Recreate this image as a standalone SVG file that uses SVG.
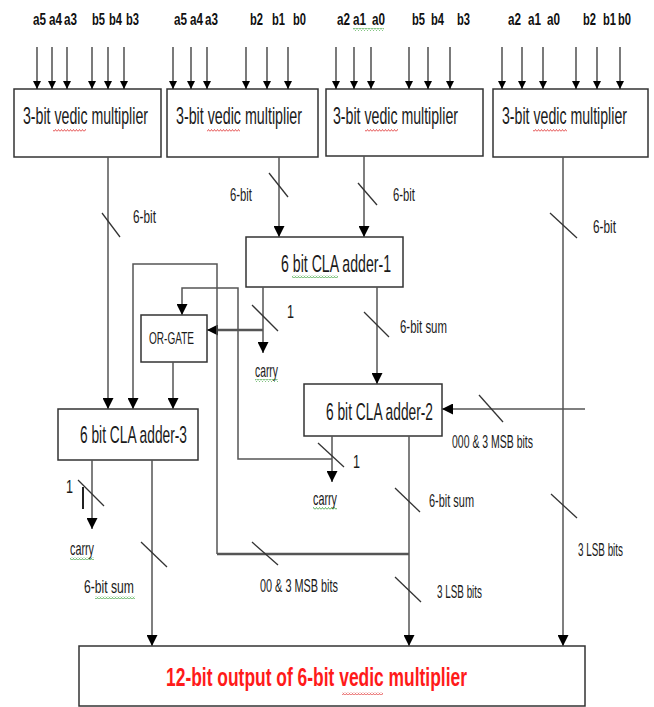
<svg xmlns="http://www.w3.org/2000/svg" width="654" height="707" viewBox="0 0 654 707">
<defs>
<marker id="arr" viewBox="0 0 10 10" refX="10" refY="5" markerWidth="8" markerHeight="8" markerUnits="userSpaceOnUse" orient="auto"><path d="M0,0 L10,5 L0,10 z" fill="#000"/></marker>
<marker id="arrS" viewBox="0 0 10 10" refX="10" refY="5" markerWidth="11" markerHeight="11" markerUnits="userSpaceOnUse" orient="auto"><path d="M0,0 L10,5 L0,10 z" fill="#000"/></marker>
<pattern id="wr" width="3" height="3" patternUnits="userSpaceOnUse"><path d="M0,2.5 L1.5,0.5 L3,2.5" fill="none" stroke="#e03030" stroke-width="0.8"/></pattern>
<pattern id="wg" width="3" height="3" patternUnits="userSpaceOnUse"><path d="M0,2.5 L1.5,0.5 L3,2.5" fill="none" stroke="#3aa03a" stroke-width="0.8"/></pattern>
<style>
.box{fill:#fff;stroke:#333;stroke-width:1.5}
.in{stroke:#222;stroke-width:1.2;fill:none;marker-end:url(#arr)}
.c{stroke:#555;stroke-width:1.5;fill:none}
.ca{stroke:#555;stroke-width:1.5;fill:none;marker-end:url(#arrS)}
.thick{stroke:#555;stroke-width:2.5;fill:none}
.sl{stroke:#333;stroke-width:1.3}
.inl{font-family:"Liberation Sans",Arial,sans-serif;font-weight:bold;font-size:17px;fill:#111}
.bt{font-family:"Liberation Sans",Arial,sans-serif;font-size:24px;fill:#1a1a1a}
.lb{font-family:"Liberation Sans",Arial,sans-serif;font-size:18px;fill:#1a1a1a}
.og{font-family:"Liberation Sans",Arial,sans-serif;font-size:17px;fill:#1a1a1a}
.out{font-family:"Liberation Sans",Arial,sans-serif;font-weight:bold;font-size:25px;fill:#ff1a1a}
</style>
</defs>
<rect width="654" height="707" fill="#fff"/>

<g id="inputs">
<text class="inl" transform="translate(33,25) scale(0.7,1)" textLength="18.6" lengthAdjust="spacingAndGlyphs">a5</text>
<text class="inl" transform="translate(49,25) scale(0.7,1)" textLength="18.6" lengthAdjust="spacingAndGlyphs">a4</text>
<text class="inl" transform="translate(64,25) scale(0.7,1)" textLength="18.6" lengthAdjust="spacingAndGlyphs">a3</text>
<text class="inl" transform="translate(92,25) scale(0.7,1)" textLength="18.6" lengthAdjust="spacingAndGlyphs">b5</text>
<text class="inl" transform="translate(109,25) scale(0.7,1)" textLength="18.6" lengthAdjust="spacingAndGlyphs">b4</text>
<text class="inl" transform="translate(126,25) scale(0.7,1)" textLength="18.6" lengthAdjust="spacingAndGlyphs">b3</text>
<text class="inl" transform="translate(174,25) scale(0.7,1)" textLength="18.6" lengthAdjust="spacingAndGlyphs">a5</text>
<text class="inl" transform="translate(190,25) scale(0.7,1)" textLength="18.6" lengthAdjust="spacingAndGlyphs">a4</text>
<text class="inl" transform="translate(205,25) scale(0.7,1)" textLength="18.6" lengthAdjust="spacingAndGlyphs">a3</text>
<text class="inl" transform="translate(250,25) scale(0.7,1)" textLength="18.6" lengthAdjust="spacingAndGlyphs">b2</text>
<text class="inl" transform="translate(272,25) scale(0.7,1)" textLength="18.6" lengthAdjust="spacingAndGlyphs">b1</text>
<text class="inl" transform="translate(293,25) scale(0.7,1)" textLength="18.6" lengthAdjust="spacingAndGlyphs">b0</text>
<text class="inl" transform="translate(337,25) scale(0.7,1)" textLength="18.6" lengthAdjust="spacingAndGlyphs">a2</text>
<text class="inl" transform="translate(353,25) scale(0.7,1)" textLength="18.6" lengthAdjust="spacingAndGlyphs">a1</text>
<text class="inl" transform="translate(372,25) scale(0.7,1)" textLength="18.6" lengthAdjust="spacingAndGlyphs">a0</text>
<text class="inl" transform="translate(412,25) scale(0.7,1)" textLength="18.6" lengthAdjust="spacingAndGlyphs">b5</text>
<text class="inl" transform="translate(431,25) scale(0.7,1)" textLength="18.6" lengthAdjust="spacingAndGlyphs">b4</text>
<text class="inl" transform="translate(457,25) scale(0.7,1)" textLength="18.6" lengthAdjust="spacingAndGlyphs">b3</text>
<text class="inl" transform="translate(508,25) scale(0.7,1)" textLength="18.6" lengthAdjust="spacingAndGlyphs">a2</text>
<text class="inl" transform="translate(528,25) scale(0.7,1)" textLength="18.6" lengthAdjust="spacingAndGlyphs">a1</text>
<text class="inl" transform="translate(547,25) scale(0.7,1)" textLength="18.6" lengthAdjust="spacingAndGlyphs">a0</text>
<text class="inl" transform="translate(583,25) scale(0.7,1)" textLength="18.6" lengthAdjust="spacingAndGlyphs">b2</text>
<text class="inl" transform="translate(603,25) scale(0.7,1)" textLength="18.6" lengthAdjust="spacingAndGlyphs">b1</text>
<text class="inl" transform="translate(618,25) scale(0.7,1)" textLength="18.6" lengthAdjust="spacingAndGlyphs">b0</text>
<rect x="353" y="28" width="31" height="3" fill="url(#wg)"/>
</g>

<g id="mult1">
<rect class="box" x="14" y="89" width="147" height="68"/>
<text class="bt" transform="translate(23,124) scale(0.6,1)" textLength="208.3" lengthAdjust="spacingAndGlyphs">3-bit vedic multiplier</text>
<rect x="53" y="129" width="33" height="3" fill="url(#wr)"/>
</g>
<g id="mult2">
<rect class="box" x="167" y="89" width="151" height="68"/>
<text class="bt" transform="translate(176,124) scale(0.6,1)" textLength="210" lengthAdjust="spacingAndGlyphs">3-bit vedic multiplier</text>
<rect x="207" y="129" width="33" height="3" fill="url(#wr)"/>
</g>
<g id="mult3">
<rect class="box" x="326" y="89" width="157" height="67"/>
<text class="bt" transform="translate(333,124) scale(0.6,1)" textLength="208.3" lengthAdjust="spacingAndGlyphs">3-bit vedic multiplier</text>
<rect x="365" y="129" width="33" height="3" fill="url(#wr)"/>
</g>
<g id="mult4">
<rect class="box" x="493" y="89" width="155" height="68"/>
<text class="bt" transform="translate(502,124) scale(0.6,1)" textLength="208.3" lengthAdjust="spacingAndGlyphs">3-bit vedic multiplier</text>
<rect x="533" y="129" width="34" height="3" fill="url(#wr)"/>
</g>

<g id="adder1">
<rect class="box" x="246" y="237" width="157" height="50"/>
<text class="bt" transform="translate(281,272) scale(0.58,1)" textLength="189.7" lengthAdjust="spacingAndGlyphs">6 bit  CLA adder-1</text>
<rect x="292" y="275" width="46" height="3" fill="url(#wg)"/>
</g>
<g id="orgate">
<rect class="box" x="141" y="315" width="66" height="47"/>
<text class="og" transform="translate(149,344) scale(0.62,1)" textLength="72.6" lengthAdjust="spacingAndGlyphs">OR-GATE</text>
</g>
<g id="adder2">
<rect class="box" x="304" y="384" width="138" height="52"/>
<text class="bt" transform="translate(326,420) scale(0.58,1)" textLength="184.5" lengthAdjust="spacingAndGlyphs">6 bit CLA adder-2</text>
</g>
<g id="adder3">
<rect class="box" x="58" y="409" width="140" height="51"/>
<text class="bt" transform="translate(80,443) scale(0.58,1)" textLength="184.5" lengthAdjust="spacingAndGlyphs">6 bit CLA adder-3</text>
</g>
<g id="output">
<rect class="box" x="79" y="646" width="506" height="60"/>
<text class="out" transform="translate(166,686) scale(0.7,1)" textLength="430" lengthAdjust="spacingAndGlyphs">12-bit output of 6-bit vedic multiplier</text>
<rect x="342" y="692" width="41" height="3" fill="url(#wr)"/>
</g>

<g id="connectors">
<line class="in" x1="37" y1="47" x2="37" y2="89"/>
<line class="in" x1="52" y1="47" x2="52" y2="89"/>
<line class="in" x1="67" y1="47" x2="67" y2="89"/>
<line class="in" x1="92" y1="47" x2="92" y2="89"/>
<line class="in" x1="108" y1="47" x2="108" y2="89"/>
<line class="in" x1="124" y1="47" x2="124" y2="89"/>
<line class="in" x1="173" y1="47" x2="173" y2="89"/>
<line class="in" x1="191" y1="47" x2="191" y2="89"/>
<line class="in" x1="207" y1="47" x2="207" y2="89"/>
<line class="in" x1="246" y1="47" x2="246" y2="89"/>
<line class="in" x1="267" y1="47" x2="267" y2="89"/>
<line class="in" x1="288" y1="47" x2="288" y2="89"/>
<line class="in" x1="336" y1="47" x2="336" y2="89"/>
<line class="in" x1="354" y1="47" x2="354" y2="89"/>
<line class="in" x1="371" y1="47" x2="371" y2="89"/>
<line class="in" x1="409" y1="47" x2="409" y2="89"/>
<line class="in" x1="428" y1="47" x2="428" y2="89"/>
<line class="in" x1="450" y1="47" x2="450" y2="89"/>
<line class="in" x1="502" y1="47" x2="502" y2="89"/>
<line class="in" x1="522" y1="47" x2="522" y2="89"/>
<line class="in" x1="543" y1="47" x2="543" y2="89"/>
<line class="in" x1="576" y1="47" x2="576" y2="89"/>
<line class="in" x1="597" y1="47" x2="597" y2="89"/>
<line class="in" x1="620" y1="47" x2="620" y2="89"/>

<line class="ca" x1="108" y1="157" x2="108" y2="409"/>
<line class="sl" x1="102" y1="213" x2="120" y2="237"/>
<line class="ca" x1="279" y1="157" x2="279" y2="237"/>
<line class="sl" x1="269" y1="173" x2="288" y2="197"/>
<line class="ca" x1="364" y1="156" x2="364" y2="237"/>
<line class="sl" x1="358" y1="183" x2="377" y2="205"/>
<line class="ca" x1="563" y1="157" x2="563" y2="646"/>
<line class="sl" x1="550" y1="213" x2="577" y2="238"/>
<line class="sl" x1="551" y1="494" x2="577" y2="518"/>

<line class="ca" x1="263" y1="287" x2="263" y2="353"/>
<line class="sl" x1="252" y1="305" x2="278" y2="331"/>
<line class="thick" x1="263" y1="330" x2="216" y2="330"/>
<line class="ca" x1="216" y1="330" x2="207" y2="330"/>
<line class="ca" x1="377" y1="287" x2="377" y2="384"/>
<line class="sl" x1="364" y1="312" x2="389" y2="337"/>

<line class="ca" x1="585" y1="409" x2="442" y2="409"/>
<line class="sl" x1="479" y1="395" x2="503" y2="422"/>

<line class="ca" x1="332" y1="436" x2="332" y2="482"/>
<line class="sl" x1="318" y1="443" x2="344" y2="467"/>
<polyline class="ca" points="332,459 238,459 238,288 182,288 182,315"/>

<line class="ca" x1="409" y1="436" x2="409" y2="646"/>
<line class="sl" x1="395" y1="488" x2="420" y2="512"/>
<line class="sl" x1="395" y1="577" x2="421" y2="602"/>
<line class="thick" x1="409" y1="554" x2="217" y2="554"/>
<polyline class="ca" points="217,554 217,264 133,264 133,409"/>
<line class="sl" x1="252" y1="542" x2="278" y2="565"/>

<line class="ca" x1="173" y1="362" x2="173" y2="409"/>

<line class="ca" x1="92" y1="460" x2="92" y2="529"/>
<line class="sl" x1="78" y1="480" x2="104" y2="506"/>
<line stroke="#222" stroke-width="2" x1="83" y1="487" x2="83" y2="509"/>
<line class="ca" x1="152" y1="460" x2="152" y2="646"/>
<line class="sl" x1="141" y1="542" x2="167" y2="567"/>
</g>

<g id="labels">
<text class="lb" transform="translate(133,223) scale(0.6,1)" textLength="38.3" lengthAdjust="spacingAndGlyphs">6-bit</text>
<text class="lb" transform="translate(230,201) scale(0.6,1)" textLength="36.7" lengthAdjust="spacingAndGlyphs">6-bit</text>
<text class="lb" transform="translate(393,201) scale(0.6,1)" textLength="36.7" lengthAdjust="spacingAndGlyphs">6-bit</text>
<text class="lb" transform="translate(593,233) scale(0.6,1)" textLength="38.3" lengthAdjust="spacingAndGlyphs">6-bit</text>
<text class="lb" transform="translate(287,318) scale(0.7,1)">1</text>
<text class="lb" transform="translate(400,333) scale(0.6,1)" textLength="78.3" lengthAdjust="spacingAndGlyphs">6-bit sum</text>
<text class="lb" transform="translate(255,377) scale(0.6,1)" textLength="38.3" lengthAdjust="spacingAndGlyphs">carry</text>
<rect x="255" y="379" width="23" height="3" fill="url(#wg)"/>
<text class="lb" transform="translate(452,448) scale(0.6,1)" textLength="135" lengthAdjust="spacingAndGlyphs">000 &amp; 3 MSB bits</text>
<text class="lb" transform="translate(353,468) scale(0.7,1)">1</text>
<text class="lb" transform="translate(313,505) scale(0.6,1)" textLength="40" lengthAdjust="spacingAndGlyphs">carry</text>
<rect x="313" y="507" width="24" height="3" fill="url(#wg)"/>
<text class="lb" transform="translate(429,507) scale(0.6,1)" textLength="75" lengthAdjust="spacingAndGlyphs">6-bit sum</text>
<text class="lb" transform="translate(66,493) scale(0.7,1)">1</text>
<text class="lb" transform="translate(70,555) scale(0.6,1)" textLength="40" lengthAdjust="spacingAndGlyphs">carry</text>
<rect x="70" y="557" width="24" height="3" fill="url(#wg)"/>
<text class="lb" transform="translate(84,593) scale(0.6,1)" textLength="83.3" lengthAdjust="spacingAndGlyphs">6-bit  sum</text>
<rect x="95" y="596" width="40" height="3" fill="url(#wg)"/>
<text class="lb" transform="translate(260,592) scale(0.6,1)" textLength="130" lengthAdjust="spacingAndGlyphs">00 &amp; 3 MSB bits</text>
<text class="lb" transform="translate(437,598) scale(0.6,1)" textLength="75" lengthAdjust="spacingAndGlyphs">3 LSB bits</text>
<text class="lb" transform="translate(578,556) scale(0.6,1)" textLength="75" lengthAdjust="spacingAndGlyphs">3 LSB bits</text>
</g>
</svg>
